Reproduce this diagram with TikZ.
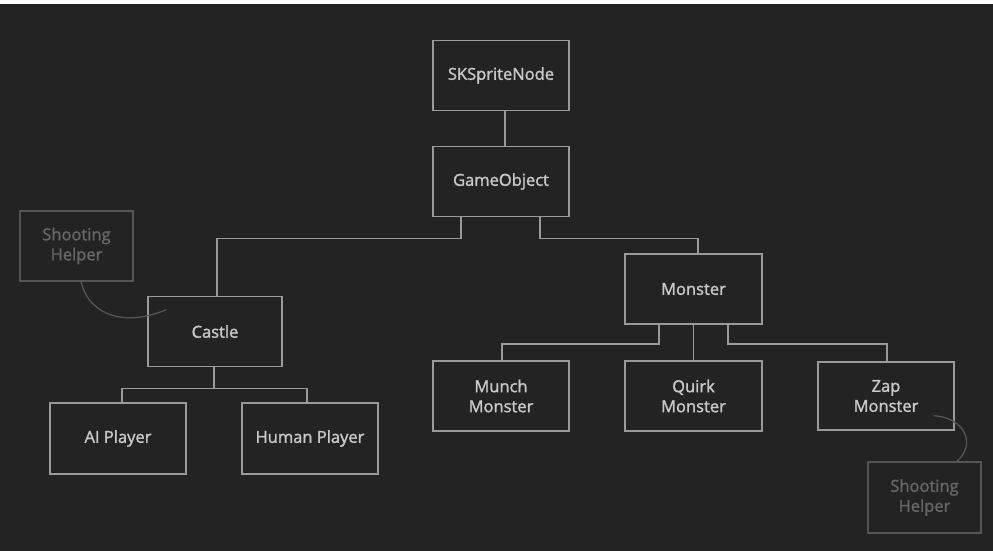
\documentclass[tikz,border=0pt]{standalone}
\usepackage{fontspec}
\setmainfont{Open Sans}
\newfontfamily\boxfont{Open Sans}[FakeBold=1.6]
\definecolor{bg}{HTML}{232323}
\definecolor{edge}{HTML}{9A9A9A}
\definecolor{txt}{HTML}{C8C8C8}
\definecolor{faint}{HTML}{555555}
\definecolor{fainttxt}{HTML}{666666}
\tikzset{
  cls/.style={draw=edge, line width=1.5pt, text=txt, minimum width=136pt, minimum height=70pt,
    inner sep=0pt, align=center, font=\boxfont\fontsize{16.5}{20}\selectfont},
  helper/.style={draw=faint, line width=1.3pt, text=fainttxt, minimum width=113pt, minimum height=70pt,
    inner sep=0pt, align=center, font=\boxfont\fontsize{16.5}{20}\selectfont},
  link/.style={draw=edge, line width=1.5pt},
  hlink/.style={draw=faint, line width=1.3pt}
}
\begin{document}
\begin{tikzpicture}[x=1pt,y=-1pt]
\useasboundingbox (0,0) rectangle (993,551);
\fill[white] (0,0) rectangle (993,551);
\fill[bg] (0,4) rectangle (993,551);

\node[cls] (sk) at (501,75.5) {SKSpriteNode};
\node[cls] (go) at (501,181.5) {GameObject};
\node[cls, minimum width=134pt] (castle) at (215,331.5) {Castle};
\node[cls, minimum width=137pt] (monster) at (693.5,289) {Monster};
\node[cls] (munch) at (501,396) {Munch\\Monster};
\node[cls, minimum width=137pt] (quirk) at (693.5,396) {Quirk\\Monster};
\node[cls, minimum height=68pt] (zap) at (886,396) {Zap\\Monster};
\node[cls, minimum height=71pt] (ai) at (118,438.5) {AI Player};
\node[cls, minimum height=71pt] (human) at (310,438.5) {Human Player};
\node[helper] (help1) at (76.5,246) {Shooting\\Helper};
\node[helper, minimum height=71pt] (help2) at (924.5,497.5) {Shooting\\Helper};

\draw[link] ([xshift=4pt]sk.south) -- ([xshift=4pt]go.north);
\draw[link] ([xshift=-40pt]go.south) -- ++(0,21) -| ([xshift=2pt]castle.north);
\draw[link] ([xshift=39pt]go.south) -- ++(0,21) -| ([xshift=4.5pt]monster.north);
\draw[link] ([xshift=-34.5pt]monster.south) -- ++(0,19) -| ([xshift=1pt]munch.north);
\draw[link] (monster.south) -- (quirk.north);
\draw[link] ([xshift=34.5pt]monster.south) -- ++(0,19) -| ([xshift=1pt]zap.north);
\draw[link] ([xshift=-1pt]castle.south) -- ++(0,21) -| ([xshift=4pt]ai.north);
\draw[link] ([xshift=-1pt]castle.south) -- ++(0,21) -| ([xshift=-3pt]human.north);

\coordinate (c1) at ([xshift=19pt,yshift=-14pt]castle.north west);
\draw[hlink] ([xshift=4.5pt]help1.south) .. controls (90,318) and (128,326) .. (c1);
\coordinate (c2) at ([xshift=-21pt,yshift=15pt]zap.south east);
\draw[hlink] (c2) .. controls (962,417) and (978,442) .. ([xshift=32.5pt]help2.north);
\end{tikzpicture}
\end{document}
